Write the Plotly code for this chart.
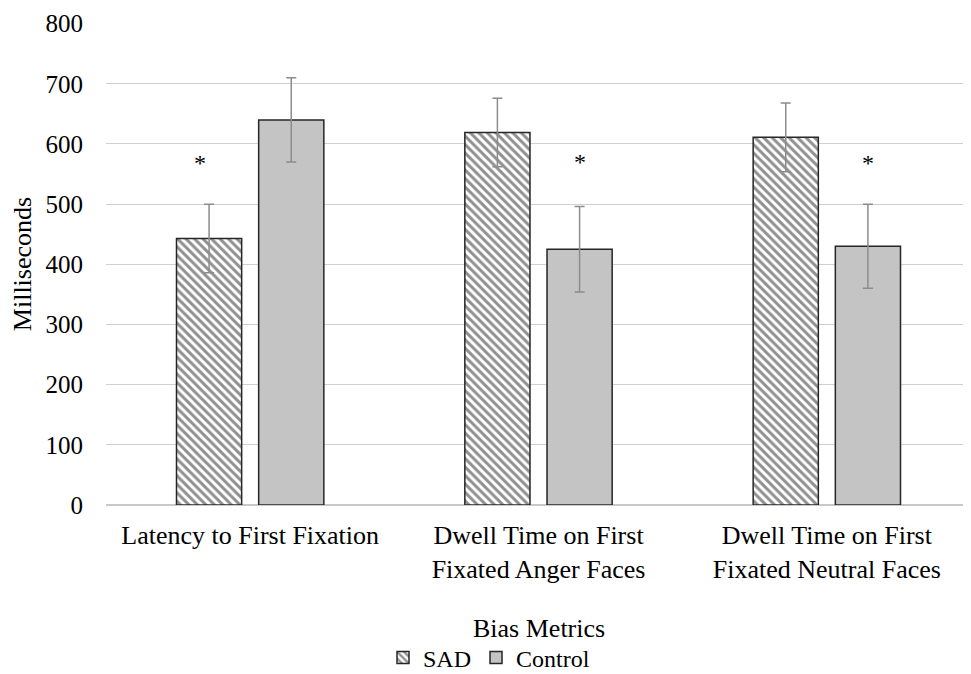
import plotly.graph_objects as go

categories = ["Latency to First Fixation",
              "Dwell Time on First<br>Fixated Anger Faces",
              "Dwell Time on First<br>Fixated Neutral Faces"]
sad_values = [443, 619, 611]
sad_errors = [57, 57, 57]
control_values = [640, 425, 430]
control_errors = [70, 71, 70]
# significance markers: (category index, series, height)
asterisk_cat = [0, 1, 2]
asterisk_series = ["SAD", "Control", "Control"]
asterisk_y = [570, 571, 570]
y_ticks = [0, 100, 200, 300, 400, 500, 600, 700, 800]

FONT = "Liberation Serif"
FS = 26

fig = go.Figure()
fig.add_trace(go.Bar(
    name="SAD", x=categories, y=sad_values,
    marker=dict(color="white", line=dict(color="#262626", width=1.5),
                pattern=dict(shape="\\", size=6, solidity=0.5,
                             fgcolor="#222222", bgcolor="white")),
    error_y=dict(type="data", array=sad_errors, visible=True,
                 color="#8c8c8c", thickness=1.5, width=5),
))
fig.add_trace(go.Bar(
    name="Control", x=categories, y=control_values,
    marker=dict(color="#c4c4c4", line=dict(color="#262626", width=1.5)),
    error_y=dict(type="data", array=control_errors, visible=True,
                 color="#8c8c8c", thickness=1.5, width=5),
))

for ci, s, yv in zip(asterisk_cat, asterisk_series, asterisk_y):
    shift = -41 - 9 if s == "SAD" else 41
    fig.add_annotation(x=categories[ci], y=yv, text="*", showarrow=False,
                       xshift=shift, yshift=-1,
                       font=dict(family=FONT, size=24, color="black"))

fig.add_annotation(text="Bias Metrics", xref="paper", yref="paper",
                   x=0.5, y=(505 - 628) / 482, showarrow=False,
                   xanchor="center", yanchor="middle",
                   font=dict(family=FONT, size=FS, color="black"))

# page has an 8px body margin; figure is sized to fill the 971x674 window
fig.update_layout(
    width=963, height=666,
    margin=dict(l=98, r=0, t=15, b=169, autoexpand=False),
    paper_bgcolor="white", plot_bgcolor="white",
    barmode="group", bargap=0.43, bargroupgap=0.207,
    font=dict(family=FONT, size=FS, color="black"),
    showlegend=True,
    legend=dict(orientation="h", xref="paper", yref="paper",
                x=(481 - 98) / 865, xanchor="center",
                y=(505 - 658) / 482, yanchor="middle",
                font=dict(family=FONT, size=24, color="black"),
                itemwidth=30, traceorder="normal", tracegroupgap=0),
    xaxis=dict(showgrid=False, showline=False, zeroline=False,
               tickfont=dict(family=FONT, size=FS, color="black"),
               ticks="", ticklabelstandoff=12, automargin=False),
    yaxis=dict(range=[0, 801], tickvals=y_ticks, showgrid=True,
               gridcolor="#d0d0d0", gridwidth=1.2, zeroline=True,
               zerolinecolor="#c8c8c8", zerolinewidth=1.5, showline=False,
               tickfont=dict(family=FONT, size=25, color="black"),
               ticks="", ticklabelstandoff=22, automargin=False,
               title=dict(text="Milliseconds", standoff=10,
                          font=dict(family=FONT, size=FS, color="black"))),
)

fig.write_html("out.html")
